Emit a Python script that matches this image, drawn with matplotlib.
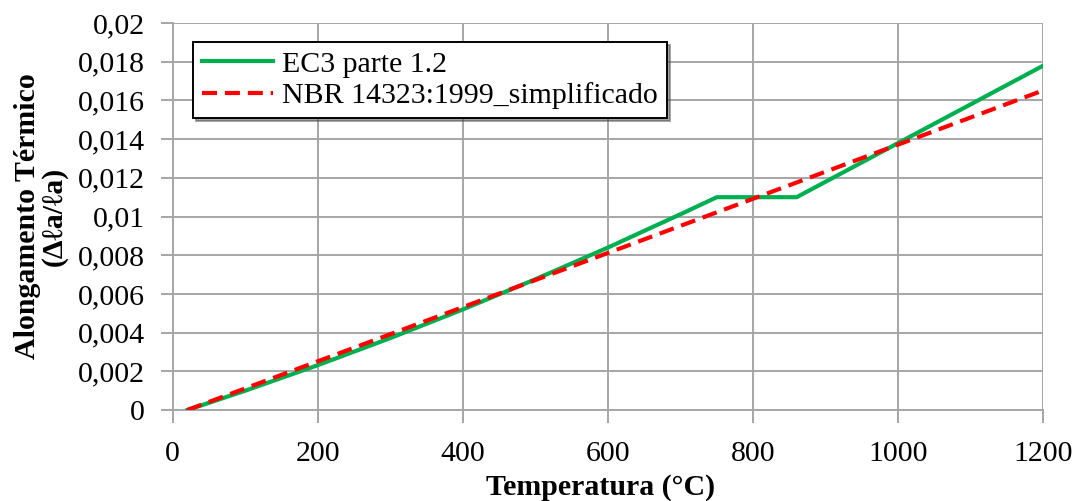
import matplotlib.pyplot as plt
from matplotlib.ticker import FixedLocator

# valores
temp_ec3 = [20, 100, 200, 300, 400, 500, 600, 700, 750, 860, 1000, 1100, 1200]
along_ec3 = [0.0, 0.0010, 0.00232, 0.00372, 0.00520, 0.00676, 0.00840, 0.01012, 0.0110, 0.0110, 0.0138, 0.0158, 0.0178]
temp_nbr = [20, 400, 800, 1200]
along_nbr = [0.0, 0.00532, 0.01092, 0.01652]

yticks = [0, 0.002, 0.004, 0.006, 0.008, 0.010, 0.012, 0.014, 0.016, 0.018, 0.020]
ylabels = ["0", "0,002", "0,004", "0,006", "0,008", "0,01", "0,012", "0,014", "0,016", "0,018", "0,02"]
xticks = [0, 200, 400, 600, 800, 1000, 1200]

plt.rcParams['font.family'] = ['Liberation Serif', 'DejaVu Serif']
fs = 21.5

fig = plt.figure(figsize=(10.8, 5.01), dpi=100)
ax = fig.add_axes([0.160, 0.1816, 0.806, 0.7724])

grid_c = "#a6a6a6"
ax.plot(temp_ec3, along_ec3, color="#00b050", lw=3.0, label="EC3 parte 1.2", zorder=3)
ax.plot(temp_nbr, along_nbr, color="#ff0000", lw=3.0, ls=(0, (3.6, 1.9)), label="NBR 14323:1999_simplificado",
        zorder=4)

ax.set_xlim(0, 1200)
ax.set_ylim(0, 0.02)
ax.xaxis.set_major_locator(FixedLocator(xticks))
ax.set_yticks(yticks)
ax.set_yticklabels(ylabels)
ax.grid(True, color=grid_c, lw=1.4)
ax.set_axisbelow(True)
for s in ["top", "right"]:
    ax.spines[s].set_visible(False)
for s in ["left", "bottom"]:
    ax.spines[s].set_color(grid_c)
    ax.spines[s].set_linewidth(1.4)
ax.tick_params(axis="both", colors=grid_c, length=9, width=1.4, labelsize=fs, labelcolor="black")
ax.tick_params(axis="x", pad=13)
ax.tick_params(axis="y", pad=11)

fig.text(0.556, 0.012, "Temperatura (°C)", fontsize=fs, fontweight="bold", ha="center", va="baseline")
fig.text(0.038, 0.568, "Alongamento Térmico\n(Δℓa/ℓa)", fontsize=fs, fontweight="bold", rotation=90,
         ha="center", va="center", multialignment="center", linespacing=1.0)

leg = ax.legend(loc="upper left", bbox_to_anchor=(0.023, 0.951), fontsize=fs, frameon=True, fancybox=False,
                shadow=True, handlelength=2.4, borderpad=0.3, labelspacing=0.15, handletextpad=0.3,
                borderaxespad=0)
leg.get_frame().set_edgecolor("black")
leg.get_frame().set_linewidth(1.4)

fig.savefig("out.png", dpi=100)
